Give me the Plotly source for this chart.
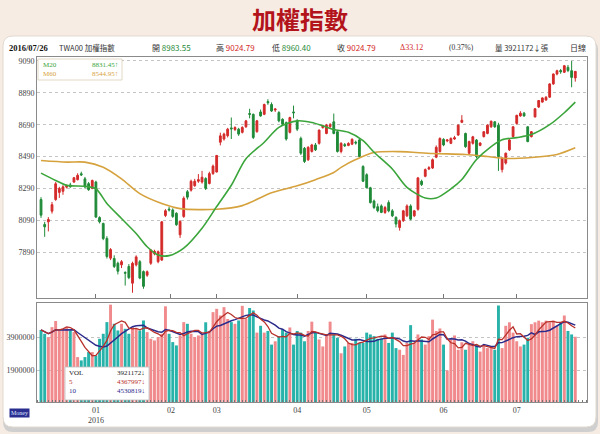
import plotly.graph_objects as go
import pandas as pd

# ---------------- data ----------------
open_ = [8220, 8064, 8080, 8147, 8220, 8265, 8272, 8298, 8312, 8330, 8345, 8382, 8350, 8320, 8290,
         8330, 8107, 8070, 7976, 7852, 7850, 7820, 7810, 7762, 7800, 7695, 7810, 7830, 7768, 7745,
         7820, 7880, 7830, 7840, 8120, 8160, 8155, 8134, 7999, 8114, 8269, 8279, 8307, 8335, 8330,
         8352, 8321, 8383, 8393, 8580, 8600, 8621, 8670, 8660, 8662, 8642, 8677, 8760, 8755, 8646,
         8770, 8755, 8835, 8817, 8782, 8766, 8724, 8703, 8642, 8770, 8714, 8604, 8542, 8470, 8522,
         8563, 8573, 8672, 8635, 8678, 8708, 8646, 8522, 8565, 8560, 8568, 8580, 8594, 8428, 8376,
         8294, 8211, 8175, 8180, 8139, 8201, 8149, 8108, 8045, 8087, 8118, 8180, 8118, 8159, 8335,
         8366, 8412, 8418, 8486, 8521, 8598, 8588, 8573, 8600, 8625, 8705, 8635, 8511, 8573, 8594,
         8560, 8615, 8635, 8677, 8708, 8687, 8408, 8449, 8532, 8615, 8698, 8745, 8762, 8677, 8615,
         8739, 8801, 8832, 8845, 8863, 8946, 9008, 9030, 9019, 9050, 9029, 8983.55]
high_ = [8235, 8080, 8110, 8205, 8330, 8300, 8310, 8315, 8325, 8362, 8385, 8395, 8362, 8330, 8345,
         8338, 8115, 8075, 7990, 7915, 7870, 7830, 7840, 7770, 7815, 7830, 7870, 7840, 7775, 7775,
         7910, 7905, 7900, 8085, 8160, 8175, 8165, 8140, 8090, 8240, 8280, 8345, 8350, 8380, 8400,
         8360, 8395, 8440, 8500, 8640, 8640, 8670, 8735, 8680, 8670, 8680, 8720, 8790, 8760, 8720,
         8785, 8822, 8850, 8830, 8795, 8775, 8730, 8710, 8740, 8810, 8725, 8615, 8550, 8555, 8570,
         8575, 8660, 8690, 8695, 8700, 8760, 8655, 8580, 8575, 8580, 8605, 8590, 8600, 8435, 8385,
         8300, 8220, 8195, 8190, 8180, 8215, 8160, 8115, 8095, 8155, 8190, 8190, 8155, 8362, 8345,
         8415, 8430, 8478, 8560, 8610, 8605, 8600, 8610, 8620, 8692, 8750, 8640, 8590, 8620, 8600,
         8580, 8650, 8692, 8715, 8712, 8702, 8485, 8515, 8600, 8680, 8752, 8775, 8770, 8680, 8650,
         8795, 8845, 8862, 8870, 8950, 9012, 9035, 9040, 9065, 9065, 9090, 9024.79]
low_ = [8105, 7986, 8020, 8132, 8212, 8230, 8250, 8290, 8295, 8325, 8340, 8368, 8290, 8275, 8285,
        8105, 8070, 7965, 7850, 7840, 7790, 7750, 7790, 7680, 7720, 7635, 7800, 7720, 7660, 7735,
        7810, 7870, 7820, 7835, 8110, 8145, 8105, 8055, 7979, 8105, 8220, 8270, 8300, 8325, 8320,
        8280, 8315, 8375, 8390, 8560, 8590, 8610, 8600, 8650, 8620, 8635, 8670, 8730, 8600, 8640,
        8740, 8750, 8815, 8770, 8770, 8705, 8685, 8590, 8635, 8730, 8650, 8500, 8450, 8462, 8515,
        8525, 8565, 8665, 8630, 8670, 8630, 8515, 8510, 8550, 8555, 8562, 8565, 8485, 8330, 8290,
        8195, 8160, 8140, 8135, 8130, 8140, 8110, 8045, 8025, 8080, 8110, 8090, 8110, 8150, 8305,
        8360, 8405, 8412, 8480, 8515, 8555, 8580, 8568, 8595, 8620, 8700, 8545, 8500, 8565, 8480,
        8555, 8610, 8630, 8670, 8670, 8400, 8390, 8440, 8525, 8610, 8690, 8740, 8740, 8580, 8610,
        8735, 8795, 8828, 8840, 8858, 8940, 9000, 9010, 9015, 9020, 8925, 8960.40]
close_ = [8122, 8049, 8095, 8188, 8319, 8290, 8300, 8306, 8300, 8357, 8372, 8375, 8300, 8282, 8340,
          8110, 8080, 7975, 7862, 7906, 7800, 7770, 7830, 7758, 7730, 7820, 7860, 7727, 7675, 7767,
          7903, 7895, 7893, 8080, 8150, 8155, 8114, 8062, 8083, 8228, 8235, 8335, 8335, 8345, 8360,
          8290, 8383, 8430, 8497, 8620, 8631, 8662, 8664, 8672, 8631, 8673, 8714, 8755, 8610, 8714,
          8745, 8817, 8828, 8776, 8788, 8714, 8693, 8600, 8735, 8765, 8662, 8511, 8459, 8548, 8563,
          8532, 8656, 8680, 8687, 8690, 8635, 8522, 8573, 8558, 8572, 8598, 8575, 8490, 8335, 8294,
          8201, 8170, 8150, 8139, 8170, 8149, 8118, 8066, 8087, 8149, 8180, 8097, 8149, 8356, 8314,
          8408, 8420, 8470, 8548, 8604, 8563, 8594, 8604, 8608, 8687, 8718, 8552, 8584, 8614, 8490,
          8575, 8646, 8687, 8712, 8677, 8490, 8480, 8511, 8594, 8677, 8749, 8762, 8745, 8584, 8646,
          8790, 8842, 8858, 8862, 8946, 9008, 9029, 9022, 9060, 9030, 8987, 9024.79]

volume_m = [4.33, 4.1, 3.9, 4.5, 4.87, 4.3, 4.4, 4.5, 4.3, 4.2,
            2.7, 2.5, 2.7, 3.0, 3.0, 2.8, 3.8, 4.1, 4.8, 5.85,
            4.7, 4.3, 4.7, 4.4, 4.1, 4.5, 4.4, 4.3, 4.9, 4.2,
            3.8, 3.7, 3.9, 4.1, 5.75, 4.1, 3.6, 3.4, 4.0, 4.8,
            4.7, 4.1, 3.9, 4.0,
            4.06, 4.79, 4.27, 5.4, 5.6, 5.2, 5.7, 4.99, 4.8, 4.7,
            4.9, 5.78, 5.0, 5.65, 5.5, 4.17, 4.58, 4.17, 4.27, 3.45,
            3.65, 3.96, 4.37, 4.17, 4.48, 3.45, 4.27, 4.17, 3.65, 4.27,
            4.83, 4.17, 3.76, 3.34, 4.06, 4.83, 4.06, 3.86, 2.93, 3.34,
            3.55, 3.55, 3.8, 3.55, 3.55, 4.17, 4.06, 3.96, 3.8, 3.8,
            4.06, 3.55, 4.17, 3.24, 3.14, 2.83, 3.55, 4.62, 3.55, 4.06,
            3.76, 3.45, 3.96, 4.95, 4.27, 4.42, 3.45, 1.9, 3.76, 4.0,
            3.14, 3.59, 3.14, 3.45, 3.65, 3.45, 3.03, 3.34, 3.24, 3.34,
            3.14, 5.8, 3.24, 4.58, 4.79, 4.17, 3.65, 3.34, 3.45, 3.86,
            4.68, 4.79, 4.89, 4.79, 4.89, 4.79, 4.89, 4.58, 4.79, 5.2,
            4.27, 4.06, 3.921172]

ma20_idx = [0, 4, 7, 12, 15, 18, 22, 26, 29, 32, 35, 39, 44, 48, 52, 56, 61, 65, 70, 74,
            77, 80, 84, 88, 91, 96, 100, 105, 108, 112, 115, 119, 123, 126, 130, 134, 139, 143, 146]
ma20_val = [8386, 8340, 8309, 8303, 8288, 8195, 8101, 8007, 7924, 7872, 7868, 7915, 8040, 8176, 8310,
            8476, 8580, 8673, 8714, 8704, 8683, 8660, 8642, 8590, 8517, 8412, 8297, 8230, 8230, 8287,
            8346, 8471, 8553, 8596, 8609, 8628, 8690, 8765, 8831.45]
ma60_idx = [0, 7, 12, 17, 22, 27, 33, 38, 48, 55, 63, 70, 75, 80, 82, 86, 91, 98, 107, 116,
            122, 127, 134, 141, 146]
ma60_val = [8465, 8455, 8455, 8423, 8350, 8257, 8195, 8163, 8159, 8182, 8262, 8306, 8345, 8390, 8422,
            8471, 8515, 8521, 8509, 8503, 8490, 8478, 8484, 8503, 8544.95]

month_pos = [15, 35.5, 48, 70, 89, 110, 130]
month_labels = ["01<br>2016", "02", "03", "04", "05", "06", "07"]
price_ticks = [7890, 8090, 8290, 8490, 8690, 8890, 9090]
volume_ticks = [1900000, 3900000]

quote_date = "2016/07/26"
quote_name = "TWA00 加權指數"
quote_labels = ["開", "高", "低", "收"]
quote_values = [8983.55, 9024.79, 8960.40, 9024.79]
change_value = 33.12
change_pct = 0.37
vol_legend_labels = ["VOL", "5", "10"]
vol_legend_values = [3921172, 4367997, 4530819]

# ---------------- styling ----------------
W, H = 600, 434
RED = "#d42a2a"
GREEN = "#1f8a38"
PINK = "#f08a8c"
TEAL = "#27b2aa"
MA20_C = "#3aa53a"
MA60_C = "#d6a23e"
NUMF = "Liberation Serif, Noto Sans CJK TC, serif"
CJKF = "Noto Sans CJK TC, Liberation Serif"

def X(v):
    return v / W

def Y(v):
    return 1 - v / H

def rrect(x0, y0, x1, y1, r):
    return (f"M {X(x0+r)},{Y(y0)} L {X(x1-r)},{Y(y0)} Q {X(x1)},{Y(y0)} {X(x1)},{Y(y0+r)} "
            f"L {X(x1)},{Y(y1-r)} Q {X(x1)},{Y(y1)} {X(x1-r)},{Y(y1)} "
            f"L {X(x0+r)},{Y(y1)} Q {X(x0)},{Y(y1)} {X(x0)},{Y(y1-r)} "
            f"L {X(x0)},{Y(y0+r)} Q {X(x0)},{Y(y0)} {X(x0+r)},{Y(y0)} Z")

def label(x, y, s, size=8, color="#222", anchor="left", family=NUMF):
    return dict(x=X(x), y=Y(y), xref="paper", yref="paper", text=s, showarrow=False,
                xanchor=anchor, yanchor="middle", font=dict(size=size, color=color, family=family))

N = len(close_)
xs = list(range(N))
volume = [round(v * 1e6) for v in volume_m]
up = [c >= o for o, c in zip(open_, close_)]
vol_colors = [PINK if u else TEAL for u in up]
vs = pd.Series(volume)
vma5 = vs.rolling(5, min_periods=1).mean()
vma10 = vs.rolling(10, min_periods=1).mean()

fig = go.Figure()
fig.add_trace(go.Candlestick(
    x=xs, open=open_, high=high_, low=low_, close=close_,
    increasing=dict(line=dict(color=RED, width=1), fillcolor=RED),
    decreasing=dict(line=dict(color=GREEN, width=1), fillcolor=GREEN),
    whiskerwidth=0, xaxis="x", yaxis="y", showlegend=False, hoverinfo="skip"))
fig.add_trace(go.Scatter(x=ma60_idx, y=ma60_val, mode="lines",
                         line=dict(color=MA60_C, width=1.6, shape="spline", smoothing=0.8),
                         xaxis="x", yaxis="y", showlegend=False))
fig.add_trace(go.Scatter(x=ma20_idx, y=ma20_val, mode="lines",
                         line=dict(color=MA20_C, width=1.6, shape="spline", smoothing=0.8),
                         xaxis="x", yaxis="y", showlegend=False))
fig.add_trace(go.Bar(x=xs, y=volume, marker=dict(color=vol_colors, line=dict(width=0)),
                     xaxis="x2", yaxis="y2", showlegend=False))
fig.add_trace(go.Scatter(x=xs, y=vma10, mode="lines", line=dict(color="#2b2b8c", width=1.5),
                         xaxis="x2", yaxis="y2", showlegend=False))
fig.add_trace(go.Scatter(x=xs, y=vma5, mode="lines", line=dict(color="#b8302a", width=1.3),
                         xaxis="x2", yaxis="y2", showlegend=False))

xdom = [X(37), X(587)]
xr = [-1.1, 149.2]
axis_common = dict(showline=True, linecolor="#8a8a8a", linewidth=1, mirror=True, zeroline=False)

shapes = [
    dict(type="path", path=rrect(3, 40, 598, 432, 10), xref="paper", yref="paper",
         fillcolor="#cfcfcf", line=dict(width=0), layer="below"),
    dict(type="path", path=rrect(3, 36, 596, 427, 10), xref="paper", yref="paper",
         fillcolor="white", line=dict(color="#e2d9cf", width=1), layer="below"),
    dict(type="rect", x0=X(38), x1=X(122), y0=Y(59), y1=Y(80), xref="paper", yref="paper",
         fillcolor="white", line=dict(color="#dccfb8", width=0.8), layer="above"),
    dict(type="rect", x0=X(65), x1=X(149), y0=Y(367), y1=Y(400), xref="paper", yref="paper",
         fillcolor="white", line=dict(color="#bdbdbd", width=0.8), layer="above"),
]

ann = []
ann.append(dict(x=0.5, y=Y(19), xref="paper", yref="paper", text="<b>加權指數</b>", showarrow=False,
                xanchor="center", yanchor="middle",
                font=dict(size=24, color="#b3131b", family="Noto Sans CJK TC")))
# header row
hy = 48
ann.append(label(7, hy, f"<b>{quote_date}</b>", size=8.5, color="#111"))
ann.append(label(57, hy, quote_name, size=7.5, color="#333", family=CJKF))
qcol = [GREEN, RED, GREEN, RED]
qx = [150, 214, 270, 335]
for lx, lb, val, col in zip(qx, quote_labels, quote_values, qcol):
    ann.append(label(lx, hy, f"{lb} <span style='color:{col}'>{val:.2f}</span>", size=8, color="#333", family=CJKF))
ann.append(label(398, hy, f"Δ{change_value:.2f}", size=8, color=RED))
ann.append(label(447, hy, f"({change_pct:.2f}%)", size=7.5, color="#333"))
ann.append(label(493, hy, f"量 {vol_legend_values[0]}↓張", size=7.5, color="#333", family=CJKF))
ann.append(label(568, hy, "日線", size=8, color="#333", family=CJKF))
# MA legend
ann.append(label(41, 65, "M20", size=7, color=MA20_C))
ann.append(label(120, 65, f"{ma20_val[-1]:.2f}↑", size=7, color=MA20_C, anchor="right"))
ann.append(label(41, 74, "M60", size=7, color=MA60_C))
ann.append(label(120, 74, f"{ma60_val[-1]:.2f}↑", size=7, color=MA60_C, anchor="right"))
# volume legend
vcols = ["#222", "#b8302a", "#2b2b8c"]
for k, (lb, val, col) in enumerate(zip(vol_legend_labels, vol_legend_values, vcols)):
    yy = 373 + k * 9
    ann.append(label(67, yy, lb, size=7, color=col))
    ann.append(label(147, yy, f"{val}↓", size=7, color=col, anchor="right"))
# Money tag
ann.append(dict(x=X(19.5), y=Y(413), xref="paper", yref="paper", text="Money", showarrow=False,
                xanchor="center", yanchor="middle", bgcolor="#2a2f8f", borderpad=1,
                font=dict(size=6, color="#dfe3ff", family=NUMF)))

fig.update_layout(
    width=W, height=H, margin=dict(l=0, r=0, t=0, b=0),
    paper_bgcolor="#f6ece3", plot_bgcolor="white",
    bargap=0.2, boxgap=0.3, hovermode=False,
    shapes=shapes, annotations=ann,
    xaxis=dict(domain=xdom, range=xr, anchor="y", tickmode="array", tickvals=month_pos,
               showticklabels=False, ticks="inside", ticklen=4, tickcolor="#777",
               showgrid=False, rangeslider=dict(visible=False), **axis_common),
    yaxis=dict(domain=[Y(298), Y(57)], range=[7602, 9115], anchor="x", tickmode="array",
               tickvals=price_ticks, ticks="", showgrid=True, gridcolor="#c4c4c4", griddash="dot",
               gridwidth=1, tickfont=dict(size=8, color="#444", family=NUMF), **axis_common),
    xaxis2=dict(domain=xdom, range=xr, anchor="y2", tickmode="array", tickvals=month_pos,
                ticktext=month_labels, ticks="", showgrid=False,
                tickfont=dict(size=8, color="#444", family=NUMF),
                minor=dict(tickmode="linear", tick0=0, dtick=1, ticks="inside", ticklen=2,
                           tickcolor="#777", showgrid=False),
                **axis_common),
    yaxis2=dict(domain=[Y(402), Y(303)], range=[0, 5.95e6], anchor="x2", tickmode="array",
                tickvals=volume_ticks, tickformat="d", ticks="", showgrid=True,
                gridcolor="#c4c4c4", griddash="dot", gridwidth=1,
                tickfont=dict(size=8, color="#444", family=NUMF), **axis_common),
)

fig.write_html("out.html", config={"displayModeBar": False},
               post_script="document.body.style.margin='0';")
